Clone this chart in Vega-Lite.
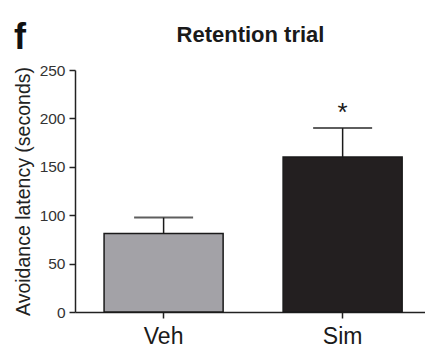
{
  "$schema": "https://vega.github.io/schema/vega-lite/v6.json",
  "autosize": "none",
  "width": 350,
  "height": 242,
  "padding": {"left": 75, "top": 70, "right": 0, "bottom": 35},
  "background": "white",
  "config": {
    "view": {"stroke": null},
    "font": "Liberation Sans"
  },
  "title": {
    "text": "f",
    "anchor": "start",
    "frame": "group",
    "dx": -61,
    "fontSize": 36,
    "fontWeight": "bold",
    "color": "#111111",
    "font": "Liberation Sans",
    "offset": -34
  },
  "data": {
    "values": [
      {"group": "Veh", "mean": 81, "upper": 97.5, "sig": ""},
      {"group": "Sim", "mean": 160, "upper": 190, "sig": "*"}
    ]
  },
  "layer": [
    {
      "mark": {"type": "bar", "stroke": "#1a1a1a", "strokeWidth": 1.5},
      "encoding": {
        "x": {
          "field": "group",
          "type": "nominal",
          "sort": ["Veh", "Sim"],
          "scale": {"paddingInner": 0.335, "paddingOuter": 0.145, "align": 0.56},
          "axis": {
            "title": null,
            "labelAngle": 0,
            "labelFontSize": 23,
            "labelColor": "#1a1a1a",
            "labelPadding": 7,
            "tickSize": 6,
            "tickColor": "#222222",
            "tickWidth": 1.5,
            "domainColor": "#222222",
            "domainWidth": 1.5
          }
        },
        "y": {
          "field": "mean",
          "type": "quantitative",
          "title": "Avoidance latency (seconds)",
          "scale": {"domain": [0, 250], "nice": false},
          "axis": {
            "titleFontSize": 19.5,
            "titleFontWeight": "normal",
            "titleColor": "#222222",
            "titlePadding": 6,
            "values": [0, 50, 100, 150, 200, 250],
            "labelFontSize": 15.5,
            "labelColor": "#333333",
            "labelPadding": 4,
            "tickSize": 6,
            "tickColor": "#222222",
            "tickWidth": 1.5,
            "domainColor": "#222222",
            "domainWidth": 1.5,
            "grid": false
          }
        },
        "color": {
          "field": "group",
          "type": "nominal",
          "scale": {"domain": ["Veh", "Sim"], "range": ["#a3a2a7", "#231f20"]},
          "legend": null
        }
      }
    },
    {
      "mark": {"type": "rule", "color": "#1a1a1a", "strokeWidth": 1.5},
      "encoding": {
        "x": {
          "field": "group",
          "type": "nominal",
          "sort": ["Veh", "Sim"],
          "axis": {
            "orient": "top",
            "title": "Retention trial",
            "titleFontSize": 22,
            "titleFontWeight": "bold",
            "titleColor": "#1a1a1a",
            "titlePadding": 24,
            "labels": false,
            "ticks": false,
            "domain": false
          }
        },
        "y": {"field": "mean", "type": "quantitative", "title": "Avoidance latency (seconds)"},
        "y2": {"field": "upper"}
      }
    },
    {
      "mark": {"type": "tick", "color": "#1a1a1a", "thickness": 2, "size": 59, "orient": "horizontal"},
      "encoding": {
        "x": {"field": "group", "type": "nominal", "sort": ["Veh", "Sim"], "axis": null},
        "y": {"field": "upper", "type": "quantitative", "title": "Avoidance latency (seconds)"}
      }
    },
    {
      "mark": {"type": "text", "fontSize": 26, "color": "#1a1a1a", "baseline": "bottom", "dy": -2},
      "encoding": {
        "x": {"field": "group", "type": "nominal", "sort": ["Veh", "Sim"], "axis": null},
        "y": {"field": "upper", "type": "quantitative", "title": "Avoidance latency (seconds)"},
        "text": {"field": "sig"}
      }
    }
  ],
  "resolve": {"axis": {"x": "independent"}}
}
